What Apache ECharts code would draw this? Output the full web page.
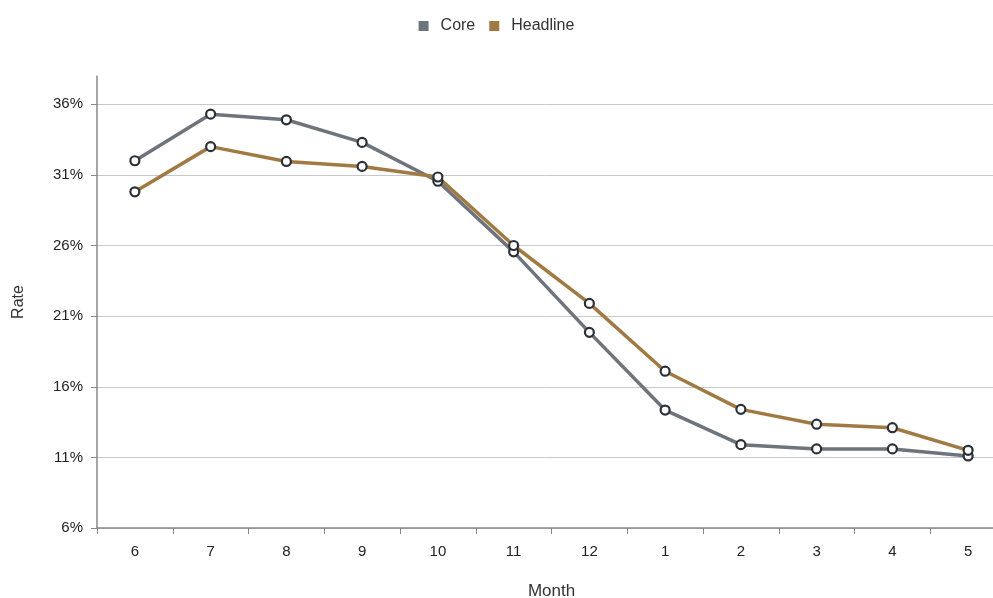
<!DOCTYPE html>
<html>
<head>
<meta charset="utf-8">
<script src="https://cdn.jsdelivr.net/npm/echarts@6/dist/echarts.min.js"></script>
<style>html,body{margin:0;padding:0;background:#fff}#c{width:993px;height:598px}</style>
</head>
<body>
<div id="c"></div>
<script>
const months = ['6','7','8','9','10','11','12','1','2','3','4','5'];
const core = [32.0, 35.3, 34.9, 33.3, 30.55, 25.55, 19.85, 14.35, 11.9, 11.6, 11.6, 11.1];
const headline = [29.8, 33.0, 31.95, 31.6, 30.85, 26.0, 21.9, 17.1, 14.4, 13.35, 13.1, 11.5];
const yTicks = [6, 11, 16, 21, 26, 31, 36];

const font = 'Liberation Sans, Arial, sans-serif';
const chart = echarts.init(document.getElementById('c'), null, {renderer: 'canvas'});
function lineSeries(name, data, color) {
  return {
    name: name, type: 'line', data: data,
    symbol: 'circle', symbolSize: 9, showSymbol: true,
    lineStyle: {color: color, width: 3.5},
    itemStyle: {color: '#fff', borderColor: '#2b3036', borderWidth: 2.2},
    emphasis: {disabled: true},
    z: 2
  };
}
chart.setOption({
  animation: false,
  backgroundColor: '#fff',
  legend: {
    top: 13, left: 'center',
    itemWidth: 10, itemHeight: 10, itemGap: 14,
    icon: 'rect',
    textStyle: {fontFamily: font, fontSize: 16, color: '#333', padding: [0, 0, 0, 7]},
    data: [
      {name: 'Core', itemStyle: {color: '#6d747c', borderWidth: 0}},
      {name: 'Headline', itemStyle: {color: '#a07a42', borderWidth: 0}}
    ]
  },
  grid: {left: 97, top: 76, width: 909, height: 452, containLabel: false, outerBoundsMode: 'none'},
  xAxis: {
    type: 'category', data: months, boundaryGap: true,
    name: 'Month', nameLocation: 'middle', nameGap: 55,
    nameTextStyle: {fontFamily: font, fontSize: 17, color: '#333'},
    axisLine: {lineStyle: {color: '#888', width: 1.5}},
    axisTick: {show: true, length: 6, lineStyle: {color: '#888'}},
    axisLabel: {fontFamily: font, fontSize: 15, color: '#222', margin: 16}
  },
  yAxis: {
    type: 'value', min: 6, max: 38, interval: 5,
    name: 'Rate', nameLocation: 'middle', nameGap: 70, nameRotate: 90,
    nameTextStyle: {fontFamily: font, fontSize: 16, color: '#333'},
    axisLine: {show: true, lineStyle: {color: '#888', width: 1.5}},
    axisTick: {show: true, length: 6, lineStyle: {color: '#888'}},
    axisLabel: {fontFamily: font, fontSize: 15, color: '#222', margin: 14,
      showMaxLabel: false,
      formatter: v => yTicks.indexOf(v) >= 0 ? v + '%' : ''},
    splitLine: {show: true, showMaxLine: false, lineStyle: {color: '#c8c8c8', width: 1}}
  },
  series: [
    lineSeries('Core', core, '#6d747c'),
    lineSeries('Headline', headline, '#a07a42')
  ]
});
</script>
</body>
</html>
